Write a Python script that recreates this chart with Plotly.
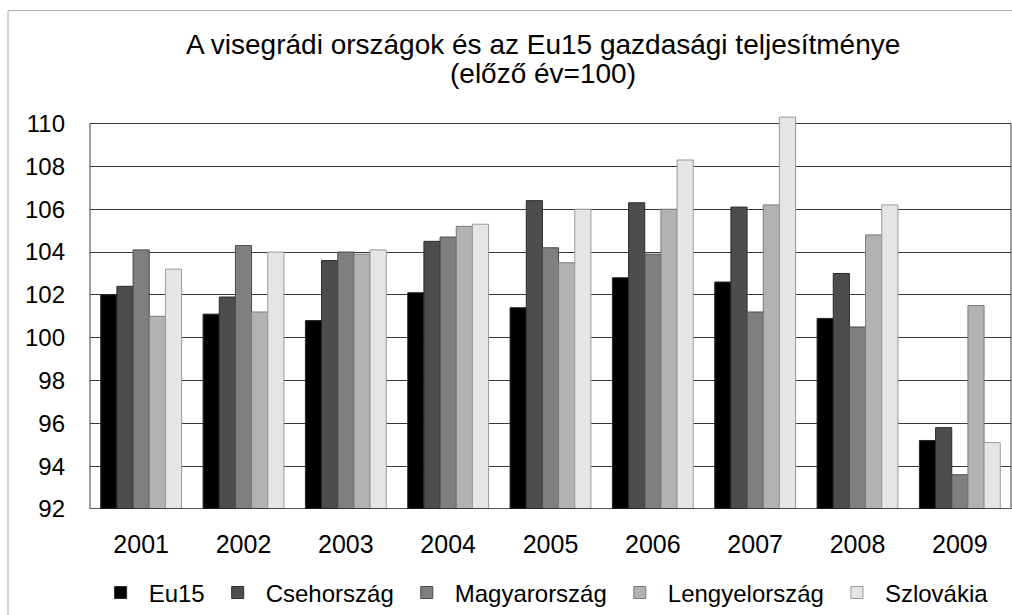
import plotly.graph_objects as go

years = ["2001", "2002", "2003", "2004", "2005", "2006", "2007", "2008", "2009"]

eu15 = [102.0, 101.1, 100.8, 102.1, 101.4, 102.8, 102.6, 100.9, 95.2]
csehorszag = [102.4, 101.9, 103.6, 104.5, 106.4, 106.3, 106.1, 103.0, 95.8]
magyarorszag = [104.1, 104.3, 104.0, 104.7, 104.2, 103.9, 101.2, 100.5, 93.6]
lengyelorszag = [101.0, 101.2, 103.9, 105.2, 103.5, 106.0, 106.2, 104.8, 101.5]
szlovakia = [103.2, 104.0, 104.1, 105.3, 106.0, 108.3, 110.3, 106.2, 95.1]

series = [
    ("Eu15", eu15, "#000000", "#262626"),
    ("Csehország", csehorszag, "#4d4d4d", "#2b2b2b"),
    ("Magyarország", magyarorszag, "#7f7f7f", "#4a4a4a"),
    ("Lengyelország", lengyelorszag, "#b2b2b2", "#7a7a7a"),
    ("Szlovákia", szlovakia, "#e5e5e5", "#9a9a9a"),
]

FONT = "Arial, Liberation Sans, sans-serif"
BASE = 92

fig = go.Figure()
for name, vals, fill, edge in series:
    fig.add_trace(
        go.Bar(
            x=years,
            y=[v - BASE for v in vals],
            base=BASE,
            name=name,
            marker={"color": fill, "line": {"color": edge, "width": 1}},
        )
    )

# plot frame lines (left axis, right border) and outer chart border
frame = "#3a3a3a"
fig.add_shape(type="line", xref="paper", yref="y", x0=0, x1=0, y0=92, y1=110,
              line={"color": frame, "width": 1})
fig.add_shape(type="line", xref="paper", yref="y", x0=1, x1=1, y0=92, y1=110,
              line={"color": frame, "width": 1})
fig.add_shape(type="line", xref="paper", yref="y", x0=0, x1=1, y0=92, y1=92,
              line={"color": "#222222", "width": 1.5})
fig.add_shape(type="rect", xref="paper", yref="paper", x0=-0.089, x1=1.01, y0=-0.3, y1=1.265,
              line={"color": "#aaaaaa", "width": 1}, layer="below")

# second title line placed separately to get the tighter line spacing
fig.add_annotation(
    text="(előző év=100)",
    xref="paper", yref="paper",
    x=0.492, y=1.105,
    xanchor="center", yanchor="middle",
    showarrow=False,
    font={"size": 28, "family": FONT, "color": "#000000"},
)

fig.update_layout(
    barmode="group",
    bargap=0.21,
    bargroupgap=0,
    width=1012,
    height=615,
    paper_bgcolor="white",
    plot_bgcolor="white",
    font={"family": FONT, "color": "#000000"},
    title={
        "text": "A visegrádi országok és az Eu15 gazdasági teljesítménye",
        "x": 0.492,
        "xref": "paper",
        "xanchor": "center",
        "y": 0.928,
        "yanchor": "middle",
        "font": {"size": 28, "family": FONT, "color": "#000000"},
    },
    margin={"l": 90, "r": 1, "t": 115, "b": 106, "autoexpand": False},
    xaxis={
        "showgrid": False,
        "showline": False,
        "ticks": "",
        "tickfont": {"size": 25},
        "ticklabelstandoff": 18,
    },
    yaxis={
        "range": [92, 110.4],
        "tickvals": list(range(92, 111, 2)),
        "showgrid": True,
        "gridcolor": "#383838",
        "gridwidth": 1,
        "zeroline": False,
        "showline": False,
        "ticks": "",
        "tickfont": {"size": 24},
        "ticklabelstandoff": 24,
    },
    legend={
        "orientation": "h",
        "x": 0.492,
        "xanchor": "center",
        "y": -0.213,
        "yanchor": "middle",
        "font": {"size": 24},
        "traceorder": "normal",
        "itemwidth": 46,
    },
)

fig.write_html(
    "out.html",
    config={"displayModeBar": False},
    post_script="document.body.style.margin = '0';",
)
